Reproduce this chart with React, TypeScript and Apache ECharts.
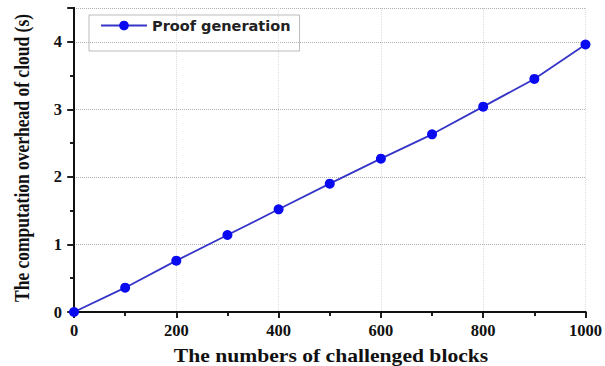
import React, { useEffect, useRef } from "react";
import * as echarts from "echarts";

const xValues = [0, 100, 200, 300, 400, 500, 600, 700, 800, 900, 1000];
const proofGeneration = [0, 0.36, 0.76, 1.14, 1.52, 1.9, 2.27, 2.63, 3.04, 3.45, 3.96];
const seriesName = "Proof generation";
const xAxisTitle = "The numbers of challenged blocks";
const yAxisTitle = "The computation overhead of cloud (s)";

export default function App() {
  const ref = useRef<HTMLDivElement>(null);
  useEffect(() => {
    const chart = echarts.init(ref.current!, null, { renderer: "svg" });
    const serif = "'Liberation Serif', 'Times New Roman', serif";
    const axisLabel = { fontFamily: serif, fontWeight: "bold", fontSize: 16.5, color: "#111" };
    const tickStyle = { color: "#111", width: 1.5 };
    const axisLine = { show: true, lineStyle: { color: "#111", width: 2 } };
    chart.setOption({
      animation: false,
      backgroundColor: "#fff",
      grid: { left: 74, right: 18, top: 8, bottom: 54 },
      legend: {
        left: 89,
        top: 15,
        padding: [3, 9, 18, 11],
        itemWidth: 46,
        itemHeight: 12,
        itemGap: 6,
        borderColor: "#bbb",
        borderWidth: 1,
        textStyle: { fontFamily: "'DejaVu Sans', sans-serif", fontWeight: "bold", fontSize: 14.5, color: "#222" },
        data: [seriesName],
      },
      xAxis: [
        {
          type: "value",
          min: 0,
          max: 1000,
          interval: 200,
          axisLine,
          axisTick: { show: true, inside: false, length: 6, lineStyle: tickStyle },
          minorTick: { show: true, splitNumber: 2, length: 4, lineStyle: tickStyle },
          splitLine: { show: true, lineStyle: { color: "#dcdcdc", type: "dotted", width: 1 } },
          axisLabel: { ...axisLabel, margin: 10, formatter: (v: number) => String(v) },
        },
        {
          type: "value",
          position: "top",
          min: 0,
          max: 1000,
          interval: 200,
          axisLine,
          axisTick: { show: true, inside: true, length: 6, lineStyle: tickStyle },
          minorTick: { show: true, splitNumber: 2, length: 4, lineStyle: tickStyle },
          splitLine: { show: false },
          axisLabel: { show: false },
        },
      ],
      yAxis: [
        {
          type: "value",
          min: 0,
          max: 4.5,
          interval: 1,
          axisLine,
          axisTick: { show: true, inside: false, length: 7, lineStyle: tickStyle },
          minorTick: { show: true, splitNumber: 2, length: 4, lineStyle: tickStyle },
          splitLine: { show: true, lineStyle: { color: "#b0b0b0", type: "dotted", width: 1 } },
          axisLabel: { ...axisLabel, margin: 12, showMaxLabel: false },
        },
        {
          type: "value",
          position: "right",
          min: 0,
          max: 4.5,
          interval: 1,
          axisLine,
          axisTick: { show: true, inside: true, length: 6, lineStyle: tickStyle },
          minorTick: { show: true, splitNumber: 2, length: 4, lineStyle: tickStyle },
          splitLine: { show: false },
          axisLabel: { show: false },
        },
      ],
      series: [
        {
          name: seriesName,
          type: "line",
          data: xValues.map((x, i) => [x, proofGeneration[i]]),
          symbol: "circle",
          symbolSize: 10,
          clip: false,
          lineStyle: { color: "#3535c8", width: 1.8 },
          itemStyle: { color: "#0a0af0" },
        },
      ],
      graphic: [
        {
          type: "text",
          x: 331,
          y: 356,
          scaleX: 1.2,
          style: {
            text: xAxisTitle,
            fontFamily: serif,
            fontWeight: "bold",
            fontSize: 18,
            fill: "#111",
            align: "center",
            verticalAlign: "middle",
          },
        },
        {
          type: "text",
          x: 22,
          y: 158,
          rotation: Math.PI / 2,
          scaleY: 1.2,
          style: {
            text: yAxisTitle,
            fontFamily: serif,
            fontWeight: "bold",
            fontSize: 17.5,
            fill: "#111",
            align: "center",
            verticalAlign: "middle",
          },
        },
      ],
    });
    return () => chart.dispose();
  }, []);
  return <div ref={ref} style={{ width: 605, height: 366, position: "absolute", left: 0, top: 0 }} />;
}
